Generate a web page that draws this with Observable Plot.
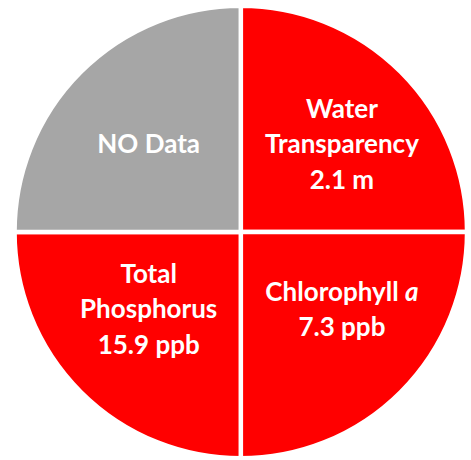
<!DOCTYPE html>
<html>
<head>
<meta charset="utf-8">
<script src="https://cdn.jsdelivr.net/npm/d3@7"></script>
<script src="https://cdn.jsdelivr.net/npm/@observablehq/plot@0.6"></script>
<style>
  html, body { margin: 0; padding: 0; background: #ffffff; }
  #chart svg { display: block; }
</style>
</head>
<body>
<div id="chart"></div>
<script>
// Slices, clockwise from 12 o'clock
const categories = ["Water\nTransparency", "Chlorophyll a", "Total\nPhosphorus", "NO Data"];
const readings = ["2.1 m", "7.3 ppb", "15.9 ppb", ""];
const shares = [1, 1, 1, 1];
const status = ["red", "red", "red", "none"];

const statusColor = {red: "#ff0000", none: "#a6a6a6"};

const slices = d3.pie().sort(null).value((d) => d.share)(
  categories.map((c, i) => ({
    category: c,
    reading: readings[i],
    share: shares[i],
    status: status[i],
    label: readings[i] ? c + "\n" + readings[i] : c
  }))
);

// label anchor from slice mid-angle (layout constants)
const labelKx = 0.61, labelKy = 0.52;
const labels = slices.map((s) => {
  const mid = (s.startAngle + s.endAngle) / 2;
  return {label: s.data.label, x: Math.sin(mid) * labelKx, y: Math.cos(mid) * labelKy};
});

const gap = 4.5;

function pieMark(index, scales) {
  const cx = scales.x(0), cy = scales.y(0);
  const r = scales.x(1) - scales.x(0);
  const arc = d3.arc().innerRadius(0).outerRadius(r + gap / 2);
  const g = d3.create("svg:g").attr("transform", `translate(${cx},${cy})`);
  g.selectAll("path")
    .data(slices)
    .join("path")
    .attr("d", arc)
    .attr("fill", (d) => statusColor[d.data.status])
    .attr("stroke", "#ffffff")
    .attr("stroke-width", gap)
    .attr("stroke-linejoin", "miter");
  return g.node();
}

const chart = Plot.plot({
  width: 471,
  height: 460,
  marginLeft: 16.8,
  marginRight: 6.2,
  marginTop: 8,
  marginBottom: 4,
  x: {domain: [-1, 1], axis: null},
  y: {domain: [-1, 1], axis: null},
  style: {background: "#ffffff", overflow: "visible"},
  marks: [
    pieMark,
    Plot.text(labels, {
      x: "x",
      y: "y",
      text: "label",
      fill: "#ffffff",
      fontSize: 26,
      fontWeight: "bold",
      fontFamily: "Lato, 'Open Sans', sans-serif",
      lineHeight: 1.36,
      lineAnchor: "middle",
      textAnchor: "middle",
      dx: 4,
      dy: -8
    })
  ]
});

// italicise the "a" of "Chlorophyll a"
chart.querySelectorAll("tspan").forEach((t) => {
  if (t.textContent === "Chlorophyll a") {
    t.textContent = "Chlorophyll ";
    const it = document.createElementNS("http://www.w3.org/2000/svg", "tspan");
    it.setAttribute("font-style", "italic");
    it.textContent = "a";
    t.appendChild(it);
  }
});

document.getElementById("chart").appendChild(chart);
</script>
</body>
</html>
